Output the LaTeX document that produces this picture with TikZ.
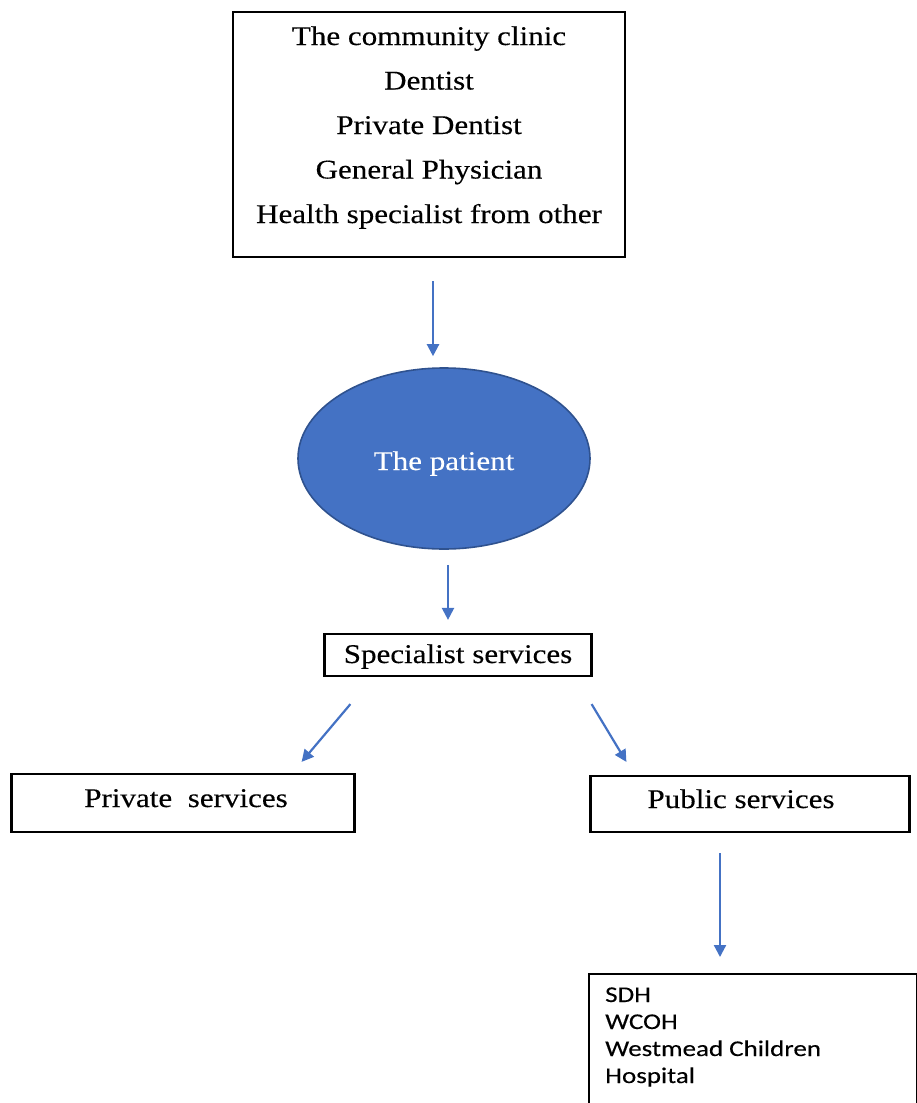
\documentclass[tikz,border=0pt]{standalone}
\usepackage{fontspec}
\usetikzlibrary{arrows.meta,shapes.geometric}
\newfontfamily\capfont[FakeStretch=1.15,FakeBold=0.3]{Liberation Serif}
\newfontfamily\listfont[FakeStretch=1.2,FakeBold=0.2]{Carlito}
\definecolor{accent}{HTML}{4472C4}
\definecolor{accentdark}{HTML}{2F528F}

\begin{document}
\begin{tikzpicture}[x=1pt,y=-1pt,
  box/.style={draw=black, line width=2.2pt, rectangle, inner sep=0pt},
  serifline/.style={font=\capfont\fontsize{27}{30}\selectfont, inner sep=0pt, anchor=base},
  listline/.style={font=\listfont\fontsize{22.5}{27}\selectfont, inner sep=0pt, anchor=base west},
  flow/.style={draw=accent, line width=2.2pt, -{Triangle[length=12pt,width=12pt]}}]

\useasboundingbox (0,0) rectangle (917,1103);
\clip (0,0) rectangle (917,1103);

% referral sources
\node[box, minimum width=392pt, minimum height=245pt] (sources) at (429,134.5) {};
\foreach \i/\txt/\yy in {1/The community clinic/45, 2/Dentist/89.5, 3/Private Dentist/134,
                        4/General Physician/178.5, 5/Health specialist from other/223}
  \node[serifline] (src\i) at (429,\yy) {\txt};

% the patient
\node[ellipse, minimum width=292pt, minimum height=181pt, inner sep=0pt,
      fill=accent, draw=accentdark, line width=1.6pt] (patient) at (444,458.5) {};
\node[serifline, text=white] (patienttxt) at (444,470) {The patient};

% specialist services and its two branches
\node[box, minimum width=267pt, minimum height=42pt] (spec) at (458,655) {};
\node[serifline] (spectxt) at (458,663) {Specialist services};
\node[box, minimum width=343pt, minimum height=58pt] (private) at (183,803) {};
\node[serifline] (privatetxt) at (186,807) {Private\ \ services};
\node[box, minimum width=319pt, minimum height=56pt] (public) at (750,804) {};
\node[serifline] (publictxt) at (741,808) {Public services};

% public hospitals
\node[box, anchor=north west, minimum width=328pt, minimum height=170pt] (hosp) at (588,973) {};
\foreach \i/\txt/\yy in {1/SDH/1002, 2/WCOH/1029, 3/Westmead Children/1056, 4/Hospital/1083}
  \node[listline] (hosp\i) at (605,\yy) {\txt};

% connectors
\draw[flow] ([xshift=4pt,yshift=-23pt]sources.south) -- ([xshift=-11pt,yshift=11pt]patient.north);
\draw[flow] ([xshift=4pt,yshift=-15pt]patient.south) -- ([xshift=-10pt,yshift=13pt]spec.north);
\draw[flow] ([xshift=27pt,yshift=-27pt]spec.south west) -- ([xshift=-54pt,yshift=11pt]private.north east);
\draw[flow] ([xshift=-1pt,yshift=-27pt]spec.south east) -- ([xshift=37pt,yshift=13pt]public.north west);
\draw[flow] ([xshift=-30pt,yshift=-20pt]public.south) -- ([xshift=132pt,yshift=16pt]hosp.north west);
\end{tikzpicture}
\end{document}
